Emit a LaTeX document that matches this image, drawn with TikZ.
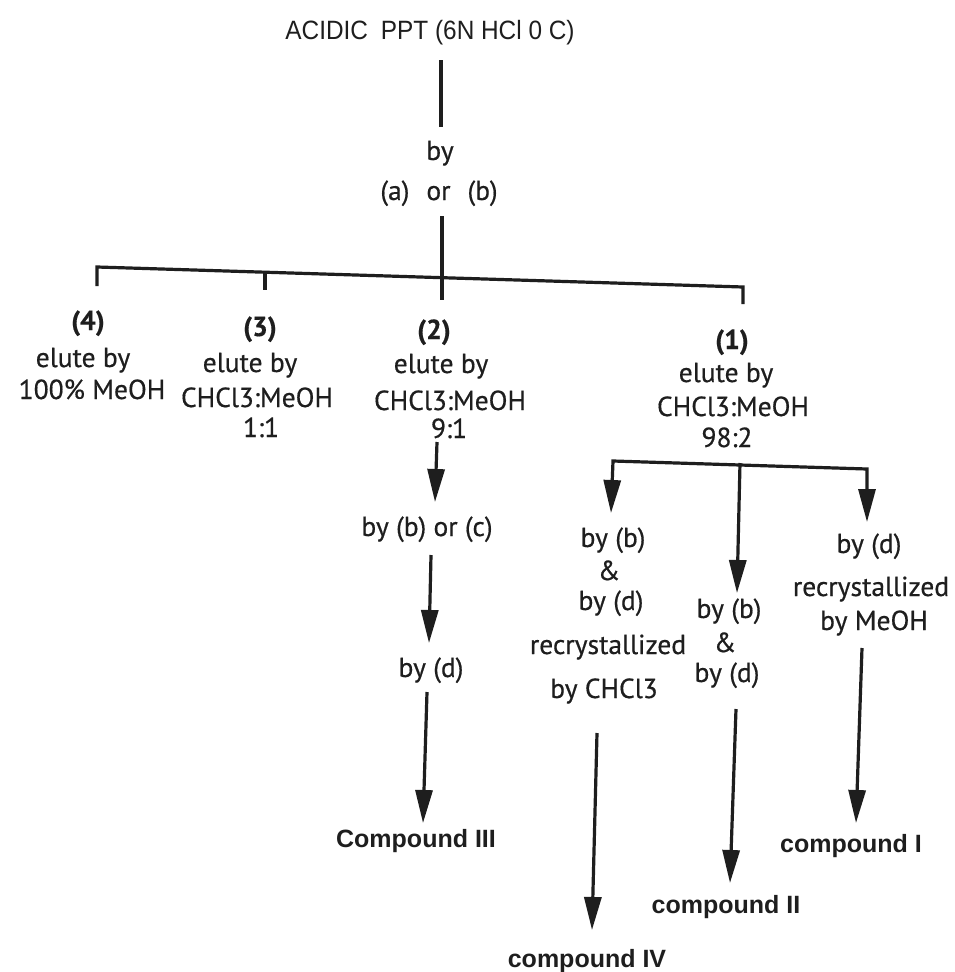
\documentclass[tikz,border=0pt]{standalone}
\usepackage{fontspec}
\usepackage{graphicx}
\setmainfont{PT Sans}[FakeBold=0.5]
\newfontfamily\titlefont{Liberation Sans}
\newfontfamily\cmpfont{Liberation Sans}
\usetikzlibrary{arrows.meta}
\definecolor{ink}{HTML}{1E1E1E}
\begin{document}
\begin{tikzpicture}[x=1pt,y=-1pt,
  txt/.style={inner sep=0pt, anchor=base, text=ink, font=\fontsize{27.5}{30}\selectfont},
  lbl/.style={inner sep=0pt, anchor=base, text=ink, font=\fontsize{27.5}{30}\selectfont\bfseries},
  cmp/.style={inner sep=0pt, anchor=base, text=ink, font=\cmpfont\fontsize{25}{30}\selectfont\bfseries},
  ttl/.style={inner sep=0pt, anchor=base, text=ink, font=\titlefont\fontsize{26.5}{30}\selectfont},
  ln/.style={draw=ink, line width=3.2pt},
  arr/.style={ln, -{Triangle[length=33pt,width=17pt]}},
  darr/.style={ln, {Triangle[length=33pt,width=17pt]}-{Triangle[length=33pt,width=17pt]}},
]
\useasboundingbox[fill=white] (0,0) rectangle (954,972);

% ---- texts ----
\node[ttl] (title) at (430,39) {\scalebox{0.92}[1]{ACIDIC\hspace{14pt}PPT (6N HCl 0 C)}};
\node[txt] (by) at (440,160) {by};
\node[txt] (aorb) at (439,200) {(a)\hspace{17pt}or\hspace{17pt}(b)};

\node[lbl] (n4) at (88,330) {(4)};
\node[txt] (e4) at (83,367) {elute by};
\node[txt] (s4) at (92,399) {100\% MeOH};

\node[lbl] (n3) at (260,336) {(3)};
\node[txt] (e3) at (250,372) {elute by};
\node[txt] (s3) at (257,407) {CHCl3:MeOH};
\node[txt] (r3) at (261,437) {1:1};

\node[lbl] (n2) at (434,339) {(2)};
\node[txt] (e2) at (441,373) {elute by};
\node[txt] (s2) at (450,410) {CHCl3:MeOH};
\node[txt] (r2) at (449,438) {9:1};

\node[lbl] (n1) at (732,349) {(1)};
\node[txt] (e1) at (726,382) {elute by};
\node[txt] (s1) at (733,416) {CHCl3:MeOH};
\node[txt] (r1) at (727,447) {98:2};

\node[txt] (bbc) at (427,536) {by (b) or (c)};
\node[txt] (bd2) at (431,677) {by (d)};
\node[cmp] (c3) at (416,847) {Compound III};

\node[txt] (lb1) at (613,547) {by (b)};
\node[txt] (lamp) at (609,580) {\&};
\node[txt] (lb2) at (611,610) {by (d)};
\node[txt] (lrc) at (608,654) {recrystallized};
\node[txt] (lch) at (604,698) {by CHCl3};
\node[cmp] (c4) at (587,967) {compound IV};

\node[txt] (mb1) at (729,618) {by (b)};
\node[txt] (mamp) at (725,652) {\&};
\node[txt] (mb2) at (727,682) {by (d)};
\node[cmp] (c2) at (726,913) {compound II};

\node[txt] (rb1) at (869,553) {by (d)};
\node[txt] (rrc) at (871,596) {recrystallized};
\node[txt] (rme) at (874,630) {by MeOH};
\node[cmp] (c1) at (851,852) {compound I};

% ---- connector end points ----
\coordinate (t1) at (441,60);   \coordinate (t2) at (441,127);
\coordinate (u1) at (442,216);  \coordinate (u2) at (442,300);
\coordinate (bl0) at (97,286);  \coordinate (bl) at (97,267);
\coordinate (br) at (743,287);  \coordinate (br0) at (743,304);
\coordinate (k1) at (265,273);  \coordinate (k2) at (265,290);

\coordinate (a1s) at (437,442); \coordinate (a1e) at (435,502);
\coordinate (a2s) at (431,555); \coordinate (a2e) at (429,643);
\coordinate (a3s) at (427,692); \coordinate (a3e) at (423,823);

\coordinate (sl) at (613,461);  \coordinate (slt) at (611,513);
\coordinate (sr) at (867,469);  \coordinate (srt) at (867,522);
\coordinate (sm) at (740,463);  \coordinate (smt) at (737,593);

\coordinate (a4s) at (597,733); \coordinate (a4e) at (592,930);
\coordinate (a5s) at (736,709); \coordinate (a5e) at (730,883);
\coordinate (a6s) at (862,648); \coordinate (a6e) at (856,823);

% ---- connectors ----
\draw[ln] (t1) -- (t2);
\draw[ln] (u1) -- (u2);
\draw[ln] (bl0) -- (bl) -- (br) -- (br0);
\draw[ln] (k1) -- (k2);

\draw[arr] (a1s) -- (a1e);
\draw[arr] (a2s) -- (a2e);
\draw[arr] (a3s) -- (a3e);

\draw[darr] (slt) -- (sl) -- (sr) -- (srt);
\draw[arr] (sm) -- (smt);

\draw[arr] (a4s) -- (a4e);
\draw[arr] (a5s) -- (a5e);
\draw[arr] (a6s) -- (a6e);
\end{tikzpicture}
\end{document}
